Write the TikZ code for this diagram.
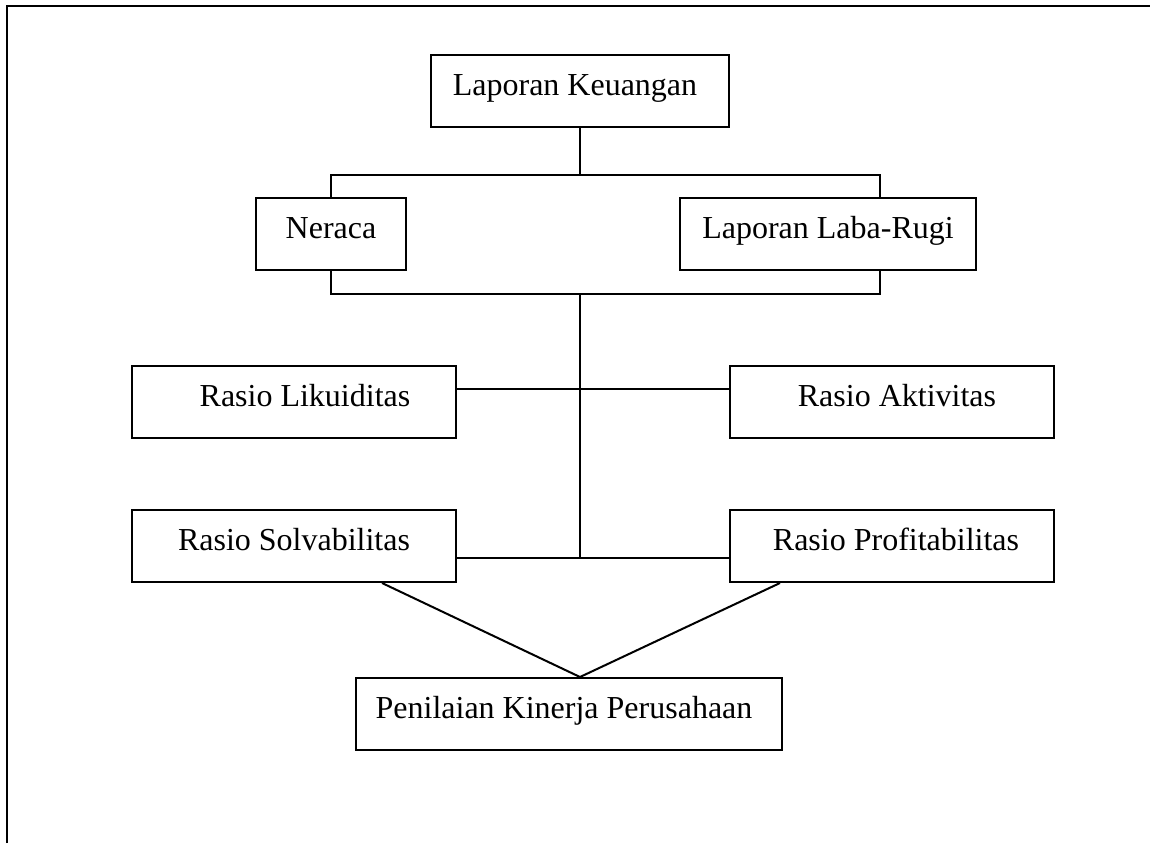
\documentclass[tikz,border=0pt]{standalone}
\usepackage{fontspec}
\setmainfont{Liberation Serif}
\begin{document}
\begin{tikzpicture}[x=1pt,y=-1pt,line width=2pt,
  box/.style={draw, line width=2pt, inner sep=0pt, minimum height=72pt,
    text height=20pt, text depth=12pt, font=\fontsize{32}{38}\selectfont},
  conn/.style={draw, line width=2pt}]
\useasboundingbox (0,0) rectangle (1150,843);
% frame
\draw[line width=2pt] (7,843) -- (7,6) -- (1150,6);
% boxes
\node[box, minimum width=298pt] (lk)  at (580,91)  {Laporan Keuangan\hspace*{10pt}};
\node[box, minimum width=150pt] (ner) at (331,234) {Neraca};
\node[box, minimum width=296pt] (llr) at (828,234) {Laporan Laba-Rugi};
\node[box, minimum width=324pt] (liq) at (294,402) {\hspace*{22pt}Rasio Likuiditas};
\node[box, minimum width=324pt] (akt) at (892,402) {\hspace*{10pt}Rasio Aktivitas};
\node[box, minimum width=324pt] (sol) at (294,546) {Rasio Solvabilitas};
\node[box, minimum width=324pt] (pro) at (892,546) {\hspace*{8pt}Rasio Profitabilitas};
\node[box, minimum width=426pt] (pkp) at (569,714) {Penilaian Kinerja Perusahaan\hspace*{10pt}};
% junction coordinates
\coordinate (b1)  at (580,175);
\coordinate (b1R) at (880,175);
\coordinate (b2)  at (580,294);
\coordinate (b2R) at (880,294);
\coordinate (j1)  at (580,389);
\coordinate (j2)  at (580,558);
% connectors
\draw[conn] (lk.south) -- (b1);
\draw[conn] (ner.north) -- (ner.north |- b1) -- (b1R) -- (b1R |- llr.north);
\draw[conn] (ner.south) -- (ner.south |- b2) -- (b2R) -- (b2R |- llr.south);
\draw[conn] (b2) -- (j2);
\draw[conn] (j1 -| liq.east) -- (j1 -| akt.west);
\draw[conn] (j2 -| sol.east) -- (j2 -| pro.west);
\draw[conn] ([xshift=88pt]sol.south) -- ([xshift=11pt]pkp.north);
\draw[conn] ([xshift=-112pt]pro.south) -- ([xshift=11pt]pkp.north);
\end{tikzpicture}
\end{document}
